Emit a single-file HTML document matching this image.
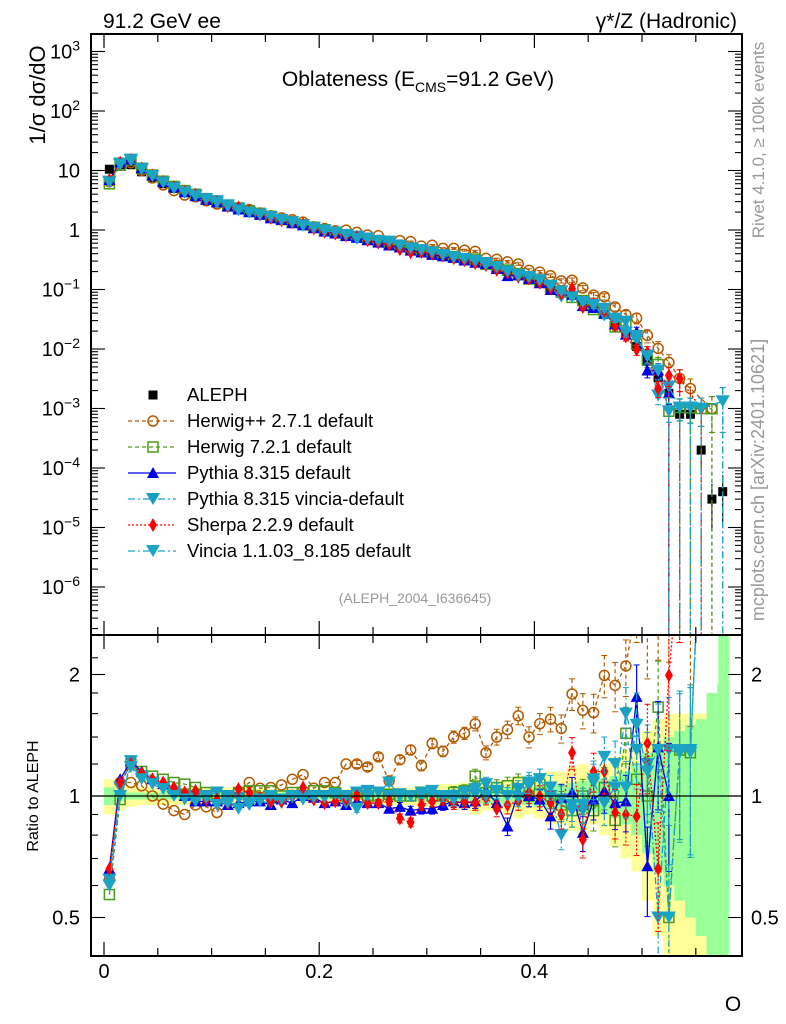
<!DOCTYPE html>
<html><head><meta charset="utf-8"><title>Oblateness</title>
<style>
html,body{margin:0;padding:0;background:#fff;overflow:hidden;width:786px;height:1024px;}
svg{display:block;font-family:"Liberation Sans",Arial,sans-serif;}
</style></head>
<body>
<svg id="chart" width="786" height="1024" viewBox="0 0 786 1024" xmlns="http://www.w3.org/2000/svg">
<rect x="0" y="0" width="786" height="1024" fill="#fff"/>
<g id="bands"></g>
<g id="marks"></g>
<g id="axes"></g>
<text x="103" y="28" font-size="21">91.2 GeV ee</text>
<text x="737" y="28" font-size="21" text-anchor="end">γ*/Z (Hadronic)</text>
<text x="418" y="86" font-size="21" text-anchor="middle">Oblateness (E<tspan font-size="14" dy="6">CMS</tspan><tspan dy="-6">=91.2 GeV)</tspan></text>
<text transform="translate(45,95) rotate(-90)" font-size="22" text-anchor="middle">1/σ  dσ/dO</text>
<text transform="translate(764,140) rotate(-90)" font-size="17" fill="#999" text-anchor="middle">Rivet 4.1.0, ≥ 100k events</text>
<text transform="translate(764,480) rotate(-90)" font-size="18" fill="#999" text-anchor="middle">mcplots.cern.ch [arXiv:2401.10621]</text>
<text x="415" y="603" font-size="14" fill="#999" text-anchor="middle">(ALEPH_2004_I636645)</text>
<text transform="translate(38,796) rotate(-90)" font-size="16" text-anchor="middle">Ratio to ALEPH</text>
<text x="733" y="1011" font-size="21" text-anchor="middle">O</text>
<g id="legend"></g>
</svg>
<script>
// ---- data ----
const binLow = [];
for (let i = 0; i < 58; i++) binLow.push(i * 0.01);
const alephValues = [10.5,12.5,12.5,9.5,7.5,6,5,4.3,3.8,3.3, 3.0,2.6,2.3,2.05,1.85,1.65,1.5,1.35,1.2,1.08,
 0.98,0.9,0.83,0.76,0.70,0.64,0.59,0.54,0.49,0.45, 0.41,0.38,0.35,0.32,0.29,0.26,0.23,0.2,0.17,0.15,
 0.13,0.11,0.095,0.08,0.065,0.05,0.038,0.027,0.018,0.011, 0.0065,0.0033,0.0018,0.0008,0.0008,0.0002,0.00003,0.00004];
const totErr = [0.1,0.08,0.06,0.05,0.05,0.05,0.05,0.05,0.05,0.05, 0.05,0.05,0.05,0.05,0.04,0.04,0.04,0.04,0.04,0.04,
 0.04,0.04,0.04,0.05,0.05,0.05,0.05,0.05,0.05,0.06, 0.06,0.07,0.07,0.08,0.1,0.08,0.08,0.1,0.12,0.1,
 0.12,0.15,0.15,0.18,0.2,0.15,0.2,0.25,0.3,0.35, 0.45,0.55,0.6,0.6,0.6,0.6,0.7,0.8];
const statErr = [0.05,0.03,0.02,0.02,0.02,0.02,0.02,0.02,0.02,0.02, 0.02,0.02,0.02,0.02,0.02,0.02,0.02,0.02,0.02,0.02,
 0.02,0.02,0.02,0.02,0.02,0.02,0.02,0.03,0.03,0.03, 0.03,0.03,0.03,0.04,0.04,0.04,0.04,0.05,0.05,0.05,
 0.06,0.07,0.07,0.08,0.09,0.09,0.1,0.12,0.15,0.2, 0.28,0.35,0.4,0.45,0.5,0.55,0.8,0.9];
const herwigppRatio = [0.62,1.08,1.08,1.06,1.0,0.955,0.92,0.9,0.95,0.94, 0.91,1.0,1.025,1.08,1.045,1.05,1.065,1.1,1.13,1.045,
 1.08,1.08,1.2,1.2,1.18,1.25,1.09,1.23,1.3,1.19, 1.35,1.29,1.4,1.43,1.51,1.28,1.4,1.46,1.58,1.4,
 1.51,1.55,1.47,1.79,1.63,1.61,1.99,1.88,2.1,3.0, 2.6,3.1,3.3,4,2.7,null,33,null];
const herwig7Ratio = [0.57,0.98,1.2,1.15,1.12,1.1,1.08,1.07,1.05,1.02, 1.0,1.0,1.02,1.03,1.03,1.03,1.0,1.02,1.02,1.03,
 1.03,1.02,1.0,1.02,1.0,1.0,1.01,1.0,1.0,1.02, 1.0,1.0,1.02,1.03,1.12,1.02,1.05,1.06,1.08,1.0,
 1.07,1.0,0.95,0.92,1.0,0.92,1.05,0.87,1.43,1.1, 1.0,1.66,0.5,1.3,1.28,5,33,null];
const pythiaRatio = [0.66,1.1,1.22,1.15,1.1,1.07,1.04,1.0,0.97,0.97, 0.97,0.95,0.96,0.97,0.97,0.95,0.98,0.96,1.0,0.99,
 0.96,0.97,0.95,0.97,0.96,0.96,0.93,0.94,0.92,0.93, 0.93,0.95,0.97,0.96,0.97,1.03,0.96,0.84,1.02,1.0,
 0.98,0.89,0.99,1.02,0.81,0.98,1.03,0.96,0.97,1.76, 0.67,1.32,1.0,null,null,null,null,null];
const pythiaVinciaRatio = [0.62,1.05,1.22,1.12,1.08,1.05,1.02,1.0,1.0,1.0, 1.02,1.0,0.99,0.95,0.97,0.96,0.96,0.99,1.0,1.0,
 1.0,1.0,0.96,1.02,1.03,1.02,1.0,1.01,1.0,1.0, 1.0,0.99,1.0,0.98,1.01,1.07,1.03,1.0,1.04,1.06,
 1.1,1.0,0.8,0.95,0.92,1.08,0.96,1.05,1.6,1.3, 1.2,0.5,1.3,1.28,1.3,5,null,33];
const sherpaRatio = [0.66,1.08,1.2,1.14,1.1,1.08,1.05,1.02,1.03,0.98, 0.98,0.96,1.04,1.02,0.99,0.97,0.97,1.0,1.05,0.98,
 0.96,0.97,0.98,1.0,0.96,0.96,0.97,0.88,0.86,0.95, 0.97,0.98,0.96,0.97,0.96,0.99,0.93,0.95,0.97,1.02,
 1.0,0.96,0.9,1.28,0.78,1.15,1.15,0.91,0.9,0.89, 1.35,0.66,1.99,4,null,5,null,null];
const vinciaRatio = [0.6,1.0,1.18,1.1,1.07,1.04,1.0,0.98,0.97,0.99, 0.95,0.96,0.93,0.96,0.98,1.0,0.98,1.0,0.98,0.99,
 0.99,1.01,1.0,0.93,1.0,1.02,1.08,1.0,1.0,1.02, 1.03,1.0,0.98,1.02,1.04,1.0,1.03,1.0,0.99,1.08,
 1.1,1.05,0.98,0.92,0.95,1.1,1.25,1.2,1.05,1.5, 1.15,1.3,0.5,1.3,1.28,5,null,33];
const mcRelErr = [0.01,0.01,0.01,0.01,0.01,0.01,0.01,0.01,0.01,0.01, 0.01,0.01,0.01,0.01,0.01,0.01,0.01,0.01,0.015,0.015,
 0.015,0.015,0.015,0.02,0.02,0.02,0.02,0.025,0.025,0.03, 0.03,0.03,0.035,0.035,0.04,0.04,0.045,0.05,0.05,0.06,
 0.06,0.07,0.08,0.09,0.1,0.11,0.12,0.14,0.16,0.2, 0.25,0.3,0.35,0.4,0.45,0.5,0.6,0.7];
const xTickLabels = ["0","0.2","0.4"];
const yTickExps = [3,2,1,0,-1,-2,-3,-4,-5,-6];
const ratioTickLabels = ["0.5","1","2"];
const legendLabels = ["ALEPH","Herwig++ 2.7.1 default","Herwig 7.2.1 default","Pythia 8.315 default","Pythia 8.315 vincia-default","Sherpa 2.2.9 default","Vincia 1.1.03_8.185 default"];

// ---- geometry ----
const NS="http://www.w3.org/2000/svg";
const L=91, R=742, T1=34, B1=635, T2=635, B2=956;
const X=v=>104+v*1076;
const Y=v=>230-Math.log10(v)*59.5;
const YR=r=>796-Math.log2(r)*121.5;
const BW=0.01;
function mk(tag,attrs,parent){const e=document.createElementNS(NS,tag);for(const k in attrs)e.setAttribute(k,attrs[k]);parent.appendChild(e);return e;}
const bands=document.getElementById('bands'), marks=document.getElementById('marks'), axes=document.getElementById('axes'), legend=document.getElementById('legend');

const defs=mk('defs',{},document.getElementById('chart'));
const c1=mk('clipPath',{id:'c1'},defs); mk('rect',{x:L,y:T1,width:R-L,height:B1-T1},c1);
const c2=mk('clipPath',{id:'c2'},defs); mk('rect',{x:L,y:T2,width:R-L,height:B2-T2},c2);
bands.setAttribute('clip-path','url(#c2)');

binLow.forEach((lo,i)=>{
  const x0=X(lo), x1=X(lo+BW);
  const y=mk('rect',{x:x0,y:YR(1+totErr[i]),width:x1-x0+0.5,height:YR(Math.max(0.05,1-totErr[i]))-YR(1+totErr[i]),fill:'#ffff99'},bands);
  
  
  const g=mk('rect',{x:x0,y:YR(1+statErr[i]),width:x1-x0+0.5,height:YR(Math.max(0.05,1-statErr[i]))-YR(1+statErr[i]),fill:'#99ff99'},bands);
  
  
});
const lastG=mk('rect',{x:X(0.57)+1,y:T2,width:X(0.58)-X(0.57),height:B2-T2,fill:'#99ff99'},bands);



function marker(type,cx,cy,color,parent){
  let e;
  if(type==='circle') e=mk('circle',{cx,cy,r:5,fill:'#fff','fill-opacity':0,stroke:color,'stroke-width':1.5},parent);
  else if(type==='square') e=mk('rect',{x:cx-5,y:cy-5,width:10,height:10,fill:'none',stroke:color,'stroke-width':1.5},parent);
  else if(type==='up') e=mk('polygon',{points:`${cx},${cy-6} ${cx-6},${cy+5} ${cx+6},${cy+5}`,fill:color},parent);
  else if(type==='down') e=mk('polygon',{points:`${cx-7},${cy-6} ${cx+7},${cy-6} ${cx},${cy+6}`,fill:color},parent);
  else if(type==='diamond') e=mk('polygon',{points:`${cx},${cy-7} ${cx+4},${cy} ${cx},${cy+7} ${cx-4},${cy}`,fill:color},parent);
  else e=mk('rect',{x:cx-4.5,y:cy-4.5,width:9,height:9,fill:color},parent);
  return e;
}

// ALEPH data drawn first (behind MC)
const gD=mk('g',{'clip-path':'url(#c1)'},marks);


alephValues.forEach((v,i)=>{
  const xc=X(binLow[i]+BW/2);
  const e=statErr[i];
  mk('line',{x1:xc,x2:xc,y1:Y(v*(1+e)),y2:Y(v*Math.max(1-e,0.3)),stroke:'#000','stroke-width':1.2},gD);
  const m=marker('data',xc,Y(v),'#000',gD);
  
  
});

const series=[
 {name:'herwigpp',ratio:herwigppRatio,color:'#b35a00',dash:'4,3',marker:'circle'},
 {name:'herwig7',ratio:herwig7Ratio,color:'#4a9a1a',dash:'4,3',marker:'square'},
 {name:'pythia',ratio:pythiaRatio,color:'#0000e6',dash:'',marker:'up'},
 {name:'pythia-vincia',ratio:pythiaVinciaRatio,color:'#1a9fc4',dash:'7,3,2,3',marker:'down'},
 {name:'sherpa',ratio:sherpaRatio,color:'#ff0000',dash:'2,2',marker:'diamond'},
 {name:'vincia',ratio:vinciaRatio,color:'#1ba4c4',dash:'7,3,2,3',marker:'down'}
];
series.forEach(s=>{
  const gTop=mk('g',{'clip-path':'url(#c1)'},marks);
  
  
  const gRat=mk('g',{'clip-path':'url(#c2)'},marks);
  
  
  let ptsT=[],ptsR=[];
  s.ratio.forEach((r,i)=>{
    if(r===null) return;
    const xc=X(binLow[i]+BW/2), v=alephValues[i]*r;
    ptsT.push([xc,Y(v),v,i]); ptsR.push([xc,YR(r),r,i]);
  });
  [[gTop,ptsT,true],[gRat,ptsR,false]].forEach(([g,pts,top])=>{
    const pl=mk('polyline',{points:pts.map(p=>p[0]+','+p[1]).join(' '),fill:'none',stroke:s.color,'stroke-width':1.3,'stroke-dasharray':s.dash},g);
    
    
    pts.forEach(p=>{
      const e=mcRelErr[p[3]];
      if(e>0.015){
        const yA=top?Y(p[2]*(1+e)):YR(p[2]*(1+e)), yB=top?Y(Math.max(p[2]*(1-e),1e-9)):YR(Math.max(p[2]*(1-e),0.01));
        const eb=mk('line',{x1:p[0],x2:p[0],y1:yA,y2:yB,stroke:s.color,'stroke-width':1.2,'stroke-dasharray':s.dash},g);
        
        
        mk('line',{x1:p[0]-3,x2:p[0]+3,y1:yA,y2:yA,stroke:s.color},g);
        mk('line',{x1:p[0]-3,x2:p[0]+3,y1:yB,y2:yB,stroke:s.color},g);
      }
      const m=marker(s.marker,p[0],p[1],s.color,g);
      
      
    });
    if(top) pts.forEach(p=>{ if(p[3]>=52){ const d=mk('line',{x1:p[0],x2:p[0],y1:p[1],y2:B1,stroke:s.color,'stroke-width':1.2,'stroke-dasharray':s.dash},g);   }});
  });
});

const unity=mk('line',{x1:L,x2:R,y1:YR(1),y2:YR(1),stroke:'#000','stroke-width':1.2},axes);



[[T1,B1],[T2,B2]].forEach(([t,b],k)=>{
  const f=mk('rect',{x:L,y:t,width:R-L,height:b-t,fill:'none',stroke:'#000','stroke-width':2},axes);
  
  
  for(let v=0;v<=0.59;v+=0.05){
    const x=X(v), major=Math.abs(v/0.2-Math.round(v/0.2))<1e-6, len=major?14:8;
    mk('line',{x1:x,x2:x,y1:b,y2:b-len,stroke:'#000','stroke-width':1.2},axes);
    mk('line',{x1:x,x2:x,y1:t,y2:t+len,stroke:'#000','stroke-width':1.2},axes);
  }
});
xTickLabels.forEach(lab=>{
  const t=mk('text',{x:X(parseFloat(lab)),y:978,'font-size':20,'text-anchor':'middle'},axes);
  t.textContent=lab;
  
  
});
for(let ex=-7;ex<=3;ex++){
  for(let m=1;m<10;m++){
    const y=Y(m*Math.pow(10,ex));
    if(y<T1||y>B1) continue;
    const len=m===1?14:7;
    mk('line',{x1:L,x2:L+len,y1:y,y2:y,stroke:'#000','stroke-width':1.1},axes);
    mk('line',{x1:R,x2:R-len,y1:y,y2:y,stroke:'#000','stroke-width':1.1},axes);
  }
}
yTickExps.forEach(ex=>{
  const t=mk('text',{x:80,y:Y(Math.pow(10,ex))+7,'font-size':20,'text-anchor':'end'},axes);
  
  
  if(ex===0) t.textContent='1';
  else if(ex===1) t.textContent='10';
  else { t.textContent='10'; const s=mk('tspan',{dy:-8,'font-size':14},t); s.textContent=String(ex).replace('-','−'); }
});
[0.4,0.5,0.6,0.7,0.8,0.9,1,1.2,1.4,1.6,1.8,2,2.2].forEach(r=>{
  const y=YR(r); if(y<T2||y>B2) return;
  const major=(r===0.5||r===1||r===2), len=major?14:7;
  mk('line',{x1:L,x2:L+len,y1:y,y2:y,stroke:'#000','stroke-width':1.1},axes);
  mk('line',{x1:R,x2:R-len,y1:y,y2:y,stroke:'#000','stroke-width':1.1},axes);
});
ratioTickLabels.forEach(lab=>{
  const y=YR(parseFloat(lab))+7;
  const a=mk('text',{x:80,y,'font-size':20,'text-anchor':'end'},axes); a.textContent=lab;
  
  
  const b=mk('text',{x:751,y,'font-size':20},axes); b.textContent=lab;
  
  
});

const legStyles=[{marker:'data',color:'#000',dash:null}].concat(series.map(s=>({marker:s.marker,color:s.color,dash:s.dash})));
legendLabels.forEach((lab,k)=>{
  const y=395+k*26;
  const g=mk('g',{},legend);
  
  
  const st=legStyles[k];
  if(st.dash!==null) mk('line',{x1:128,x2:176,y1:y,y2:y,stroke:st.color,'stroke-width':1.3,'stroke-dasharray':st.dash},g);
  marker(st.marker,153,y,st.color,g);
  const t=mk('text',{x:187,y:y+6,'font-size':18.5},g); t.textContent=lab;
});
</script>
</body></html>
